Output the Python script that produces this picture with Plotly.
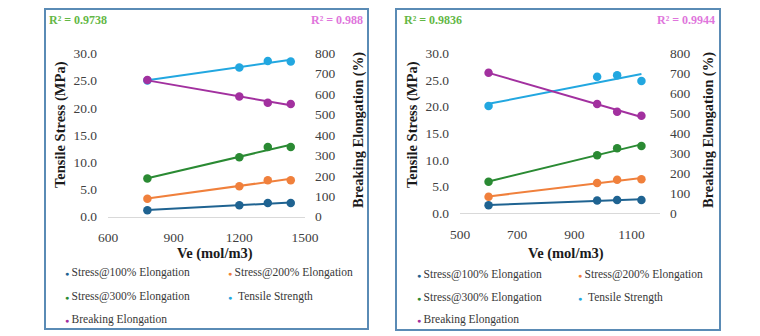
import numpy as np
import plotly.graph_objects as go

# ---- data -------------------------------------------------------------
# Panel A
ve_a = [780, 1200, 1330, 1435]
s100_a = [1.2, 2.1, 2.5, 2.5]
s200_a = [3.3, 5.6, 6.7, 6.7]
s300_a = [7.0, 10.9, 12.8, 12.8]
tensile_a = [25.0, 27.4, 28.6, 28.5]
elong_a = [669, 588, 558, 552]
r2_a = ["0.9738", "0.988"]

# Panel B
ve_b = [600, 980, 1050, 1135]
s100_b = [1.5, 2.4, 2.5, 2.5]
s200_b = [3.1, 5.7, 6.3, 6.4]
s300_b = [5.9, 10.9, 12.2, 12.6]
tensile_b = [20.1, 25.6, 25.9, 24.8]
elong_b = [703, 547, 508, 488]
r2_b = ["0.9836", "0.9944"]

series_names = ["Stress@100% Elongation", "Stress@200% Elongation",
                "Stress@300% Elongation", "Tensile Strength",
                "Breaking Elongation"]
x_ticks_a = [600, 900, 1200, 1500]
x_ticks_b = [500, 700, 900, 1100]
stress_ticks = [0, 5, 10, 15, 20, 25, 30]
elong_ticks = [0, 100, 200, 300, 400, 500, 600, 700, 800]

# ---- styling ----------------------------------------------------------
colors = ["#1F6391", "#F0803C", "#2A8A33", "#22A7E0", "#A2309F"]
R2_GREEN = "#63B746"
R2_PINK = "#E075DC"
FONT = "Liberation Serif"
TXT = "#404040"
W, H = 760, 336


def px(x):
    return x / W


def py(y):
    return 1 - y / H


fig = go.Figure()


def add_panel(ve, series, xa, ya, ya2):
    for i, vals in enumerate(series):
        yref = ya2 if i == 4 else ya
        slope, icpt = np.polyfit(ve, vals, 1)
        xs = [min(ve), max(ve)]
        fig.add_trace(go.Scatter(
            x=xs, y=[slope * v + icpt for v in xs], mode="lines",
            line=dict(color=colors[i], width=2), xaxis=xa, yaxis=yref,
            showlegend=False, hoverinfo="skip", cliponaxis=False))
        fig.add_trace(go.Scatter(
            x=ve, y=vals, mode="markers", name=series_names[i],
            marker=dict(color=colors[i], size=8.5), xaxis=xa, yaxis=yref,
            showlegend=False, cliponaxis=False))


add_panel(ve_a, [s100_a, s200_a, s300_a, tensile_a, elong_a], "x", "y", "y2")
add_panel(ve_b, [s100_b, s200_b, s300_b, tensile_b, elong_b], "x2", "y3", "y4")

tickfont = dict(family=FONT, size=13.5, color=TXT)
xcommon = dict(showgrid=False, zeroline=False, showline=True,
               linecolor="#D9D9D9", linewidth=1, ticks="", automargin=False,
               tickfont=tickfont, ticklabelstandoff=8)
ycommon = dict(showgrid=False, zeroline=False, showline=False, ticks="",
               automargin=False, tickfont=tickfont)

fig.update_layout(
    width=W, height=H, autosize=False,
    margin=dict(l=0, r=0, t=0, b=0, pad=0, autoexpand=False),
    paper_bgcolor="white", plot_bgcolor="white", showlegend=False,
    xaxis=dict(domain=[px(108), px(305)], range=[600, 1500],
               tickvals=x_ticks_a, anchor="y", **xcommon),
    yaxis=dict(domain=[py(216.7), py(53.3)], range=[0, 30],
               tickvals=stress_ticks, tickformat=".1f", anchor="x",
               ticklabelstandoff=10, **ycommon),
    yaxis2=dict(domain=[py(216.7), py(53.3)], range=[0, 800],
                tickvals=elong_ticks, overlaying="y", side="right",
                anchor="x", ticklabelstandoff=9, **ycommon),
    xaxis2=dict(domain=[px(460), px(660)], range=[500, 1200],
                tickvals=x_ticks_b, anchor="y3", **xcommon),
    yaxis3=dict(domain=[py(213.3), py(53.3)], range=[0, 30],
                tickvals=stress_ticks, tickformat=".1f", anchor="x2",
                ticklabelstandoff=10, **ycommon),
    yaxis4=dict(domain=[py(213.3), py(53.3)], range=[0, 800],
                tickvals=elong_ticks, overlaying="y3", side="right",
                anchor="x2", ticklabelstandoff=9, **ycommon),
)

# panel frames
for x0, x1, y0, y1 in [(45, 368, 9, 329), (396, 720, 9, 330)]:
    fig.add_shape(type="rect", xref="paper", yref="paper",
                  x0=px(x0), x1=px(x1), y0=py(y1), y1=py(y0),
                  line=dict(color="#5A8BB5", width=2), layer="below")

ann = []


def text(x, y, s, size, color=TXT, bold=False, angle=0, xanchor="center"):
    ann.append(dict(x=px(x), y=py(y), xref="paper", yref="paper",
                    text=f"<b>{s}</b>" if bold else s, showarrow=False,
                    textangle=angle, xanchor=xanchor, yanchor="middle",
                    borderpad=0, font=dict(family=FONT, size=size, color=color)))


# axis titles
for cx, ex, vx in [(60, 358, 215), (412, 708, 566)]:
    text(cx, 125, "Tensile Stress (MPa)", 14.5, "#1a1a1a", True, -90)
    text(ex, 130, "Breaking Elongation (%)", 14.5, "#1a1a1a", True, -90)
    text(vx, 253, "Ve (mol/m3)", 14.5, "#1a1a1a", True)

# R² of the trend lines
text(48, 19.5, f"R² = {r2_a[0]}", 12, R2_GREEN, True, xanchor="left")
text(364, 19.5, f"R² = {r2_a[1]}", 12, R2_PINK, True, xanchor="right")
text(403, 19.5, f"R² = {r2_b[0]}", 12, R2_GREEN, True, xanchor="left")
text(716, 19.5, f"R² = {r2_b[1]}", 12, R2_PINK, True, xanchor="right")

# legends (two columns)
for c1, c2, rows in [(64, 227, (272, 296, 319)), (416, 577, (274, 297, 319))]:
    spots = [(c1, rows[0]), (c2, rows[0]), (c1, rows[1]), (c2, rows[1]),
             (c1, rows[2])]
    for i, (lx, ly) in enumerate(spots):
        gap = "&nbsp;&nbsp;" if i == 3 else "&#8201;"
        s = (f'<span style="color:{colors[i]};font-size:7px">●</span>'
             f'{gap}{series_names[i]}')
        text(lx, ly, s, 11.5, "#383838", xanchor="left")

fig.update_layout(annotations=ann)
fig.write_html("out.html")
